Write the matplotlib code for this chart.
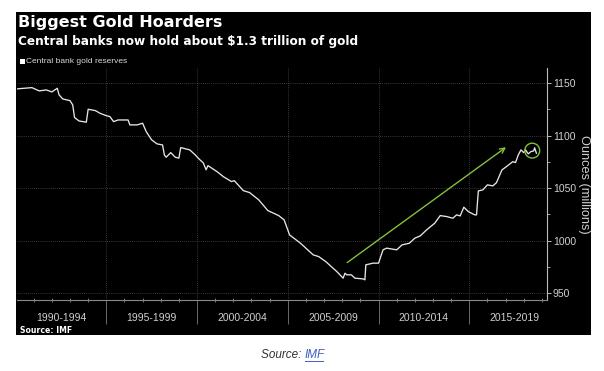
import matplotlib
matplotlib.use('Agg')
import matplotlib.pyplot as plt
from matplotlib.patches import Rectangle
from matplotlib.lines import Line2D
from matplotlib.ticker import MultipleLocator
import matplotlib.transforms as mtransforms

# central bank gold reserves, millions of ounces
years = [1990.0, 1990.9, 1991.3, 1991.7, 1992.0, 1992.3, 1992.4, 1992.6, 1993.0, 1993.15,
         1993.25, 1993.5, 1993.9, 1994.0, 1994.4, 1994.65, 1995.0, 1995.2, 1995.4, 1995.65,
         1996.2, 1996.3, 1996.7, 1997.0, 1997.2, 1997.5, 1997.8, 1998.1, 1998.2, 1998.3,
         1998.55, 1998.8, 1999.0, 1999.1, 1999.6, 1999.9, 2000.1, 2000.35, 2000.5, 2000.6,
         2001.1, 2001.45, 2001.9, 2002.05, 2002.55, 2002.9, 2003.4, 2003.9, 2004.5, 2004.8,
         2005.1, 2005.7, 2006.4, 2006.7, 2007.1, 2007.7, 2008.05, 2008.15, 2008.25, 2008.5,
         2008.7, 2009.15, 2009.25, 2009.3, 2009.7, 2010.0, 2010.25, 2010.45, 2011.0, 2011.3,
         2011.7, 2012.0, 2012.3, 2012.65, 2013.1, 2013.4, 2013.75, 2014.1, 2014.3, 2014.5,
         2014.7, 2014.95, 2015.3, 2015.4, 2015.5, 2015.75, 2016.0, 2016.3, 2016.5, 2016.8,
         2017.05, 2017.4, 2017.55, 2017.7, 2017.85, 2018.0, 2018.1, 2018.25, 2018.4, 2018.55,
         2018.6, 2018.7]
reserves = [1144.5, 1145.8, 1142.7, 1143.6, 1141.7, 1145.2, 1138.9, 1135.0, 1133.4, 1129.3,
            1117.3, 1114.0, 1112.9, 1125.2, 1123.9, 1121.4, 1119.1, 1118.2, 1113.4, 1115.0,
            1115.0, 1110.3, 1110.3, 1111.9, 1103.9, 1096.0, 1092.2, 1091.2, 1081.7, 1079.5,
            1083.9, 1079.5, 1078.6, 1088.7, 1086.5, 1081.7, 1078.0, 1074.0, 1067.5, 1071.5,
            1065.8, 1061.0, 1056.3, 1057.2, 1047.7, 1045.8, 1038.9, 1028.7, 1023.9, 1019.8,
            1005.5, 997.6, 986.5, 984.9, 980.0, 970.6, 964.3, 969.0, 967.5, 967.5,
            964.3, 963.6, 962.7, 977.0, 978.6, 978.6, 991.3, 992.9, 991.3, 996.0,
            997.6, 1002.4, 1004.6, 1010.3, 1016.7, 1023.9, 1023.0, 1021.4, 1024.6, 1023.6,
            1031.9, 1027.7, 1024.6, 1024.6, 1047.4, 1048.4, 1053.2, 1052.2, 1055.3, 1067.4,
            1070.6, 1075.3, 1074.4, 1081.7, 1086.5, 1083.9, 1086.5, 1082.7, 1084.9, 1085.5,
            1088.5, 1083.3]

period_starts = [1990, 1995, 2000, 2005, 2010, 2015]
period_labels = ['1990-1994', '1995-1999', '2000-2004', '2005-2009', '2010-2014', '2015-2019']
y_ticks = [950, 1000, 1050, 1100, 1150]

# trend arrow and highlight circle (data coords)
arrow_start = (2008.15, 977.6)
arrow_end = (2017.15, 1090.6)
circle_center = (2018.47, 1085.8)

W, H = 604, 371
fig = plt.figure(figsize=(W / 100, H / 100), dpi=100)
fig.patch.set_facecolor('white')


def fx(px):
    return px / W


def fy(py):
    return 1 - py / H


# black panel
fig.patches.append(Rectangle((fx(16), fy(335)), fx(591) - fx(16), fy(12) - fy(335),
                             transform=fig.transFigure, facecolor='black', edgecolor='none', zorder=-5))

ax = fig.add_axes([fx(17), fy(300), fx(547.3) - fx(17), fy(68) - fy(300)])
ax.set_facecolor('black')
ax.set_xlim(1990.08, 2019.3)
ax.set_ylim(943.5, 1164.5)

ax.plot(years, reserves, color='#e6e6e6', lw=0.95, zorder=3)

# grid
for v in y_ticks:
    ax.axhline(v, color='#4a4a4a', lw=0.6, ls=(0, (1, 1.5)), zorder=1)
for s in period_starts[1:]:
    ax.axvline(s, color='#4a4a4a', lw=0.6, ls=(0, (1, 1.5)), zorder=1)

# spines
for side in ['top', 'left']:
    ax.spines[side].set_visible(False)
ax.spines['right'].set_color('#bbbbbb')
ax.spines['right'].set_linewidth(0.8)
ax.spines['bottom'].set_color('#8a8a8a')
ax.spines['bottom'].set_linewidth(0.8)

# y axis on the right
ax.yaxis.tick_right()
ax.set_yticks(y_ticks)
ax.yaxis.set_minor_locator(MultipleLocator(25))
ax.tick_params(axis='y', which='major', direction='out', length=3, width=0.7,
               color='#bbbbbb', labelcolor='#d0d0d0', labelsize=7.5, pad=1)
ax.tick_params(axis='y', which='minor', direction='out', length=2, width=0.6, color='#bbbbbb')
for lab in ax.get_yticklabels():
    lab.set_family('Liberation Sans')
ax.yaxis.set_label_position('right')
ax.set_ylabel('Ounces (millions)', rotation=270, color='#d0d0d0', fontsize=9.2,
              family='Liberation Sans', labelpad=10)

# x axis: period separators + yearly ticks
ax.set_xticks(period_starts[1:])
ax.set_xticklabels([])
ax.xaxis.set_minor_locator(MultipleLocator(1))
ax.tick_params(axis='x', which='major', direction='out', length=17, width=0.7, color='#6a6a6a')
ax.tick_params(axis='x', which='minor', direction='inout', length=3, width=0.6, color='#8a8a8a')
trans = mtransforms.blended_transform_factory(ax.transData, ax.transAxes)
for s, lab in zip(period_starts, period_labels):
    ax.text(s + 2.5, -0.078, lab, transform=trans, ha='center', va='center',
            color='#d0d0d0', fontsize=7.5, family='Liberation Sans')

# annotations
ax.annotate('', xy=arrow_end, xytext=arrow_start,
            arrowprops=dict(arrowstyle='->', color='#86c03a', lw=1.0, mutation_scale=9), zorder=4)
ax.scatter([circle_center[0]], [circle_center[1]], s=115, facecolors='none',
           edgecolors='#86c03a', linewidths=1.0, zorder=4)

# titles and legend
fig.text(fx(18), fy(27), 'Biggest Gold Hoarders', color='white', fontsize=11.5,
         fontweight='bold', va='baseline', ha='left')
fig.text(fx(18), fy(45.5), 'Central banks now hold about $1.3 trillion of gold', color='white',
         fontsize=8.7, fontweight='bold', va='baseline', ha='left')
fig.patches.append(Rectangle((fx(20), fy(63.5)), fx(4.5), fy(0) - fy(4.5),
                             transform=fig.transFigure, facecolor='white', edgecolor='none'))
fig.text(fx(25.5), fy(61.3), 'Central bank gold reserves', color='#d8d8d8', fontsize=6,
         family='Liberation Sans', va='center', ha='left')
fig.text(fx(20), fy(330.5), 'Source: IMF', color='white', fontsize=5.6, fontweight='bold',
         va='center', ha='left')

# caption below panel
t1 = fig.text(fx(305), fy(355), 'Source: ', color='#333333', fontsize=8.5, style='italic',
              family='Liberation Sans', va='center', ha='right')
t2 = fig.text(fx(305), fy(355), 'IMF', color='#3b5fc0', fontsize=8.5, style='italic',
              family='Liberation Sans', va='center', ha='left')
fig.canvas.draw()
bb = t2.get_window_extent()
fig.add_artist(Line2D([bb.x0 / W, (bb.x1 - 2) / W], [(bb.y0 + 0.5) / H, (bb.y0 + 0.5) / H],
                      transform=fig.transFigure, color='#3b5fc0', lw=0.7))

fig.savefig('out.png', dpi=100, facecolor='white')
